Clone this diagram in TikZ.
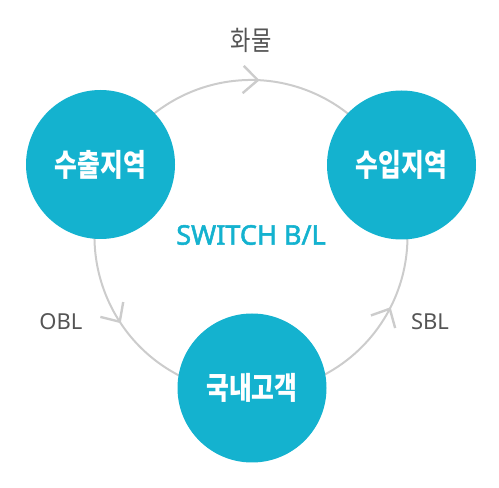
\documentclass[tikz,border=0pt]{standalone}
\usepackage{fontspec}
\usepackage{graphicx}
\setmainfont{Noto Sans CJK KR}
\newfontfamily\latinfont{Noto Sans}
\newfontfamily\swfont[FakeBold=2]{Noto Sans}
\definecolor{teal1}{HTML}{14B2CF}
\definecolor{ringgray}{HTML}{CCCCCC}
\definecolor{txtgray}{HTML}{555555}
\begin{document}
\begin{tikzpicture}[x=1pt,y=1pt,
  region/.style={circle,fill=teal1,minimum size=149pt,inner sep=0pt,text=white,font=\bfseries},
  ring/.style={draw=ringgray,line width=2pt},
  chev/.style={draw=ringgray,line width=2.4pt,line cap=butt},
  lbl/.style={text=txtgray,inner sep=0pt}]
\useasboundingbox (0,0) rectangle (499,488);
\coordinate (rc) at (251,251.5);
% connectors (ring arcs)
\draw[ring] ([shift={(154:156.5)}]rc) arc[start angle=154,end angle=25,radius=156.5];
\draw[ring] ([shift={(154:156.5)}]rc) arc[start angle=154,end angle=270,radius=156.5];
\draw[ring] ([shift={(270:156.5)}]rc) arc[start angle=270,end angle=385,radius=156.5];
% chevrons
\coordinate (ct) at ([shift={(87.5:156.5)}]rc);
\coordinate (cl) at ([shift={(213:156.5)}]rc);
\coordinate (cr) at ([shift={(-27.5:156.5)}]rc);
\draw[chev] ([shift={(-2.5+137:20)}]ct) -- (ct) -- ([shift={(-2.5+223:20)}]ct);
\draw[chev] ([shift={(303+137:20)}]cl) -- (cl) -- ([shift={(303+223:20)}]cl);
\draw[chev] ([shift={(62.5+137:20)}]cr) -- (cr) -- ([shift={(62.5+223:20)}]cr);
% regions
\node[region] (exp) at (100.5,323.5) {\scalebox{0.8}[1]{\fontsize{31}{31}\selectfont 수출지역}};
\node[region] (imp) at (401.5,323) {\scalebox{0.8}[1]{\fontsize{31}{31}\selectfont 수입지역}};
\node[region] (dom) at (252,100) {\scalebox{0.8}[1]{\fontsize{31}{31}\selectfont 국내고객}};
% labels
\node[lbl] (cargo) at (251,447.5) {\scalebox{0.82}[1]{\fontsize{27}{27}\selectfont 화물}};
\node[lbl] (obl) at (61,166) {\latinfont\fontsize{22}{22}\selectfont OBL};
\node[lbl] (sbl) at (430,166) {\latinfont\fontsize{22}{22}\selectfont SBL};
\node[text=teal1,inner sep=0pt] (sw) at (251,253) {\swfont\fontsize{27}{27}\selectfont SWITCH B/L};
\end{tikzpicture}
\end{document}
